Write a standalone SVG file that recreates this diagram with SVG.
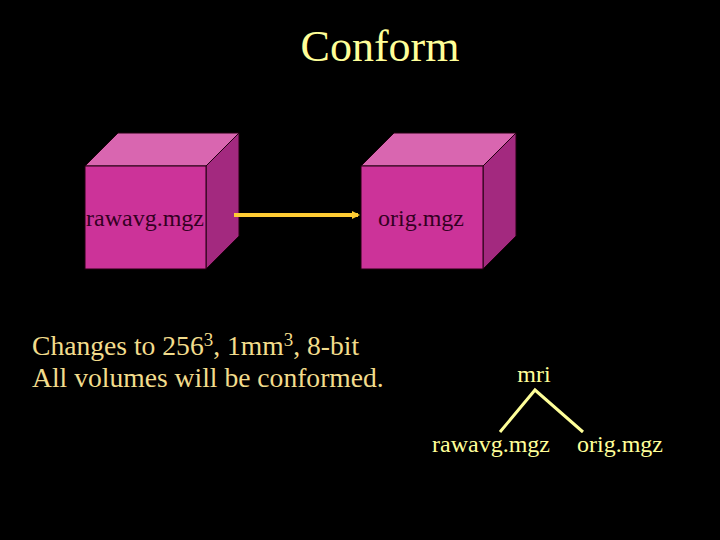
<svg xmlns="http://www.w3.org/2000/svg" width="720" height="540" viewBox="0 0 720 540">
<defs>
<style>
.front{fill:#CC3399;stroke:#220011;stroke-width:1}
.top{fill:#D966B0;stroke:#220011;stroke-width:1}
.side{fill:#A3297F;stroke:#220011;stroke-width:1}
text{font-family:"Liberation Serif","Times New Roman","DejaVu Serif",serif}
.lbl{font-size:24px;fill:#330022;text-anchor:middle}
.yl{fill:#FFFF99}
.note{font-size:27.6px;fill:#F2DC8C}
</style>
<marker id="ah" markerWidth="8" markerHeight="8" refX="6" refY="4" orient="auto" markerUnits="userSpaceOnUse">
<path d="M0,0 L8,4 L0,8 Z" fill="#FFCC33"/>
</marker>
</defs>
<rect width="720" height="540" fill="#000"/>
<text class="yl" x="380" y="61" font-size="44" text-anchor="middle">Conform</text>
<g id="cube-rawavg">
<polygon class="top" points="85,166 118,133 239,133 206,166"/>
<polygon class="side" points="206,166 239,133 239,236 206,269"/>
<rect class="front" x="85" y="166" width="121" height="103"/>
<text class="lbl" x="145" y="226">rawavg.mgz</text>
</g>
<g id="cube-orig">
<polygon class="top" points="361,166 394,133 516,133 483,166"/>
<polygon class="side" points="483,166 516,133 516,236 483,269"/>
<rect class="front" x="361" y="166" width="122" height="103"/>
<text class="lbl" x="421" y="226">orig.mgz</text>
</g>
<g id="connectors">
<line x1="234" y1="215" x2="358" y2="215" stroke="#FFCC33" stroke-width="4" marker-end="url(#ah)"/>
<polyline points="500,432 535,390 583,432" fill="none" stroke="#FFFF99" stroke-width="3"/>
</g>
<g id="notes">
<text class="note" x="32" y="355">Changes to 256<tspan font-size="19" dy="-9">3</tspan><tspan dy="9">, 1mm</tspan><tspan font-size="19" dy="-9">3</tspan><tspan dy="9">, 8-bit</tspan></text>
<text class="note" x="32" y="387">All volumes will be conformed.</text>
</g>
<g id="tree-mri"><text class="yl" x="534" y="382" font-size="24" text-anchor="middle">mri</text></g>
<g id="tree-rawavg"><text class="yl" x="491" y="452" font-size="24" text-anchor="middle">rawavg.mgz</text></g>
<g id="tree-orig"><text class="yl" x="620" y="452" font-size="24" text-anchor="middle">orig.mgz</text></g>
</svg>
